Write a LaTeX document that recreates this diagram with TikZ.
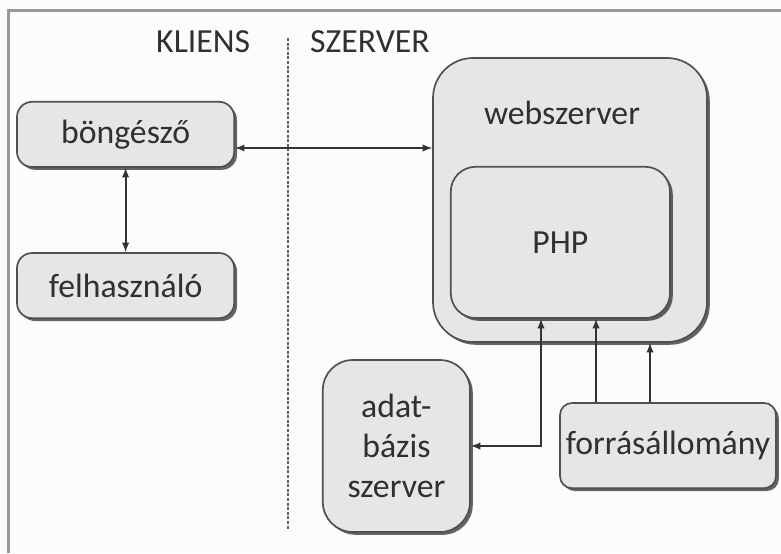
\documentclass[tikz,border=0pt]{standalone}
\usepackage{fontspec}
\setmainfont{Carlito}
\usepackage{tikz}
\usetikzlibrary{shapes,arrows,positioning,calc,shadows}

\definecolor{boxfill}{HTML}{E6E6E6}
\definecolor{boxline}{HTML}{505050}
\definecolor{textgray}{HTML}{303030}
\definecolor{framegray}{HTML}{999999}
\definecolor{paper}{HTML}{FCFCFC}

\begin{document}
\begin{tikzpicture}[
    box/.style={draw=boxline, fill=boxfill, line width=1.2pt, inner sep=0pt, align=center,
        font=\fontsize{24}{28.5}\selectfont, text=textgray,
        drop shadow={shadow xshift=0.07cm, shadow yshift=-0.07cm, fill=black, opacity=0.6}},
    side/.style={font=\fontsize{24}{28.5}\selectfont, text=textgray},
    arrow/.style={->, >=latex, line width=1.3pt, draw=black!80}
]
    % Background and frame
    \useasboundingbox[fill=paper] (0,0) rectangle (19.525,-13.825);
    \draw[framegray, line width=2.2pt] (0.21,-13.825) -- (0.21,-0.26) -- (19.525,-0.26);

    % Client / server split
    \node[side] (kliens) at (5.08,-1.05) {KLIENS};
    \node[side] (szerver) at (9.25,-1.05) {SZERVER};
    \coordinate (splittop) at (7.2,-0.95);
    \coordinate (splitbot) at (7.2,-13.25);
    \draw[boxline!90, line width=1.5pt, dash pattern=on 0.075cm off 0.04cm] (splittop) -- (splitbot);

    % Client side
    \node[box, rounded corners=0.38cm, minimum width=5.43cm, minimum height=1.63cm] (bong) at (3.14,-3.36) {böngésző};
    \node[box, rounded corners=0.38cm, minimum width=5.43cm, minimum height=1.63cm] (felh) at (3.14,-7.14) {felhasználó};

    % Server side
    \node[box, rounded corners=1cm, minimum width=6.85cm, minimum height=7.1cm] (web) at (14.25,-5.0) {};
    \node[side] (webtitle) at (14.05,-2.83) {webszerver};
    \node[box, rounded corners=0.62cm, minimum width=5.48cm, minimum height=3.78cm] (php) at (14.01,-6.06) {PHP};
    \node[box, rounded corners=0.75cm, minimum width=3.68cm, minimum height=4.3cm] (adat) at (9.91,-11.15) {adat-\\bázis\\szerver};
    \node[box, rounded corners=0.3cm, minimum width=5.4cm, minimum height=2.13cm] (forras) at (16.7,-11.14) {forrásállomány};

    % Connectors
    \coordinate (bw) at (0,-3.7);
    \draw[arrow, <->] (bong.east |- bw) -- (web.west |- bw);
    \draw[arrow, <->] (bong) -- (felh);
    \coordinate (db) at (13.525,-11.15);
    \draw[arrow, <->] (adat.east |- db) -- (db) -- (php.south -| db);
    \coordinate (src1) at (14.9,0);
    \coordinate (src2) at (16.25,0);
    \draw[arrow] (forras.north -| src1) -- (php.south -| src1);
    \draw[arrow] (forras.north -| src2) -- (web.south -| src2);
\end{tikzpicture}
\end{document}
